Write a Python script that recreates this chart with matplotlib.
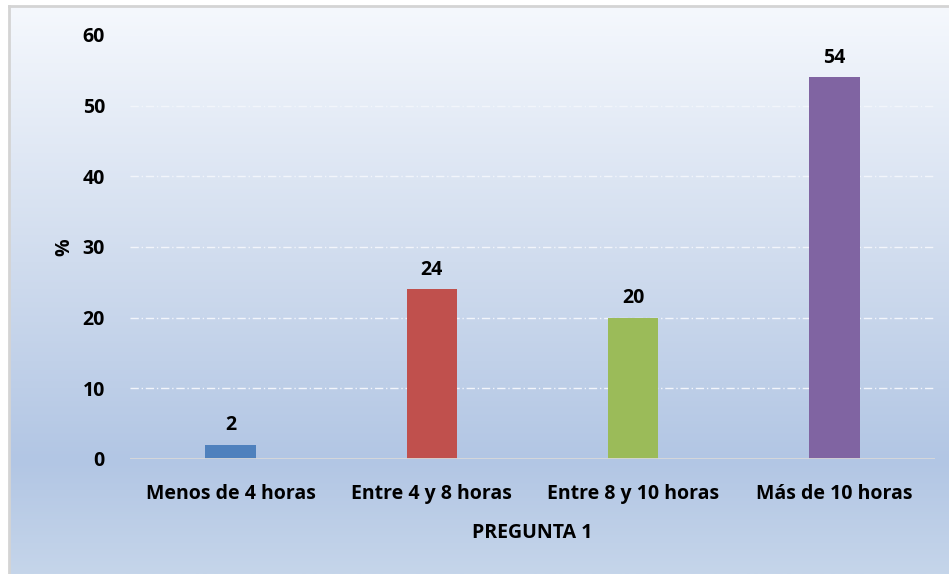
"""Bar chart: PREGUNTA 1 (% por horas)."""
import matplotlib
import numpy as np

matplotlib.use("Agg")
import matplotlib.pyplot as plt
from matplotlib.colors import LinearSegmentedColormap

categories = ["Menos de 4 horas", "Entre 4 y 8 horas", "Entre 8 y 10 horas", "Más de 10 horas"]
values = [2, 24, 20, 54]
colors = ["#4f81bd", "#c0504d", "#9bbb59", "#8064a2"]
yticks = [0, 10, 20, 30, 40, 50, 60]

W, H = 949, 574
FS = 14
plt.rcParams["font.family"] = ["Open Sans", "DejaVu Sans"]
plt.rcParams["font.weight"] = "bold"

fig = plt.figure(figsize=(W / 100, H / 100), dpi=100, facecolor="white")

# background gradient panel with grey left/top border
bg = fig.add_axes([9 / W, 0, 1 - 9 / W, 1 - 7 / H])
cmap = LinearSegmentedColormap.from_list(
    "bg", [(0, "#c5d5ea"), (0.2, "#b2c6e4"), (0.55, "#d0dcee"), (1, "#f5f8fd")])
grad = np.linspace(0, 1, 256).reshape(-1, 1)
bg.imshow(grad, aspect="auto", cmap=cmap, origin="lower", extent=[0, 1, 0, 1])
bg.set_xlim(0, 1)
bg.set_ylim(0, 1)
bg.axis("off")
fig.add_artist(plt.Line2D([8.5 / W, 8.5 / W], [0, 1 - 6 / H], color="#d4d4d4", lw=2))
fig.add_artist(plt.Line2D([8.5 / W, 1], [1 - 6 / H, 1 - 6 / H], color="#d4d4d4", lw=2))

ax = fig.add_axes([130 / W, 1 - 459 / H, 805 / W, 424 / H])
ax.patch.set_alpha(0)
x = np.arange(len(categories))
ax.bar(x, values, width=0.25, color=colors, zorder=3)
ax.set_xlim(-0.5, len(categories) - 0.5)
ax.set_ylim(0, 60)
ax.set_yticks(yticks)
ax.set_xticks(x)
ax.set_xticklabels(categories, fontsize=FS, fontweight="bold")
ax.tick_params(axis="y", labelsize=FS, length=0, pad=18)
ax.tick_params(axis="x", length=0, pad=18)
for t in ax.get_yticklabels():
    t.set_fontweight("bold")

for yv in yticks[1:]:
    ax.axhline(yv, color="#f2f5fb", lw=1, ls=(0, (6, 2, 1, 2)), zorder=1)
ax.axhline(0, color="#d9d9d9", lw=2, zorder=4)
for s in ax.spines.values():
    s.set_visible(False)

for xi, v in zip(x, values):
    ax.annotate(str(v), (xi, v), xytext=(0, 7), textcoords="offset points",
                ha="center", va="bottom", fontsize=FS, fontweight="bold")

ax.set_xlabel("PREGUNTA 1", fontsize=FS, fontweight="bold", labelpad=14)
ax.set_ylabel("%", fontsize=FS, fontweight="bold", labelpad=6)

fig.savefig("out.png", dpi=100)
